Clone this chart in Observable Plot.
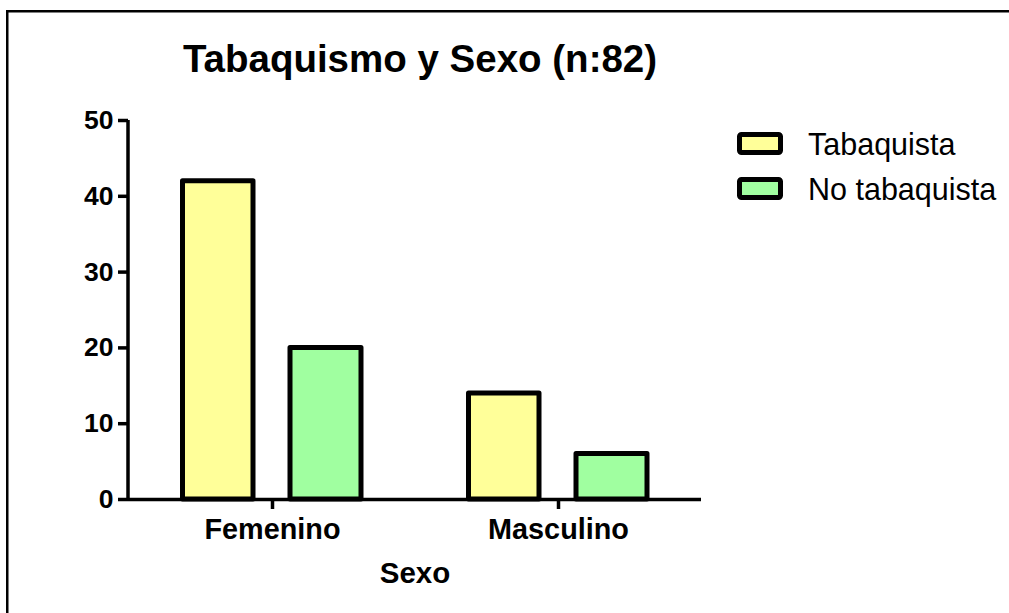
<!DOCTYPE html>
<html><head><meta charset="utf-8">
<script src="https://cdn.jsdelivr.net/npm/d3@7"></script>
<script src="https://cdn.jsdelivr.net/npm/@observablehq/plot@0.6"></script>
<style>
html,body{margin:0;padding:0;background:#fff;overflow:hidden;}
#wrap{position:relative;width:1009px;height:613px;overflow:hidden;font-family:"Liberation Sans",Arial,sans-serif;background:#fff;}
#chart{position:absolute;left:0;top:0;}
#overlay{position:absolute;left:0;top:0;}
</style></head><body>
<div id="wrap"><div id="chart"></div><svg id="overlay" width="1009" height="613"></svg></div>
<script>
const title = "Tabaquismo y Sexo (n:82)";
const xLabel = "Sexo";
const sexo = ["Femenino", "Masculino"];
const series = ["Tabaquista", "No tabaquista"];
const tabaquista = [42, 14];
const noTabaquista = [20, 6];
const colors = ["#ffff99", "#a0ffa0"];
const yTicks = [0, 10, 20, 30, 40, 50];

const dataTab = sexo.map((s, i) => ({sexo: s, value: tabaquista[i]}));
const dataNo = sexo.map((s, i) => ({sexo: s, value: noTabaquista[i]}));
const yDomain = [yTicks[0], yTicks[yTicks.length - 1]];

const plot = Plot.plot({
  width: 1009,
  height: 613,
  marginLeft: 128,
  marginRight: 308,
  marginTop: 120,
  marginBottom: 114,
  style: {fontFamily: "'Liberation Sans', Arial, sans-serif", fontSize: "26.5px", fontWeight: "bold", color: "#000", background: "transparent"},
  x: {domain: sexo, padding: 0, tickSize: 10, tickPadding: 9, label: null},
  y: {domain: yDomain, ticks: yTicks, tickSize: 10, tickPadding: 5, label: null},
  marks: [
    Plot.barY(dataTab, {x: "sexo", y: "value", fill: colors[0], stroke: "black", strokeWidth: 5, strokeLinejoin: "round", insetLeft: 53.5, insetRight: 162}),
    Plot.barY(dataNo, {x: "sexo", y: "value", fill: colors[1], stroke: "black", strokeWidth: 5, strokeLinejoin: "round", insetLeft: 161, insetRight: 54}),
    Plot.ruleY([0], {stroke: "black", strokeWidth: 3.5}),
    Plot.text([xLabel], {text: d => d, frameAnchor: "bottom", dy: 74, fontSize: 29.5, fontWeight: "bold", lineAnchor: "middle", fill: "black"})
  ]
});
document.getElementById("chart").appendChild(plot);

const svg = d3.select(plot);
svg.selectAll("g[aria-label*='axis'] line, g[aria-label*='axis'] path").attr("stroke-width", 3.5).attr("stroke", "black");
svg.selectAll("g[aria-label*='axis']").attr("stroke-width", 3.5);
svg.selectAll("text").each(function() {
  const t = d3.select(this).text();
  if (sexo.includes(t)) d3.select(this).attr("font-size", "28.8px").style("font-size", "28.8px");
});

const ov = d3.select("#overlay");
// outer frame: left and top edges
ov.append("line").attr("x1", 7.25).attr("y1", 11.25).attr("x2", 7.25).attr("y2", 613).attr("stroke", "black").attr("stroke-width", 2.5);
ov.append("line").attr("x1", 6).attr("y1", 11.25).attr("x2", 1009).attr("y2", 11.25).attr("stroke", "black").attr("stroke-width", 2.5);
// y-axis line, placed from Plot's own scales
const xs = plot.scale("x"), ys = plot.scale("y");
const axisX = Math.min(...xs.range);
ov.append("line").attr("x1", axisX).attr("x2", axisX)
  .attr("y1", ys.apply(yDomain[0])).attr("y2", ys.apply(yDomain[1]))
  .attr("stroke", "black").attr("stroke-width", 3.5);
ov.append("text").attr("x", 420).attr("y", 72).attr("text-anchor", "middle")
  .attr("font-size", 38.5).attr("font-weight", "bold").attr("font-family", "'Liberation Sans', Arial, sans-serif")
  .text(title);
series.forEach((s, i) => {
  const y0 = 134.5 + i * 45;
  ov.append("rect").attr("x", 739.5).attr("y", y0).attr("width", 41).attr("height", 18).attr("rx", 2)
    .attr("fill", colors[i]).attr("stroke", "black").attr("stroke-width", 5);
  ov.append("text").attr("x", 808).attr("y", 155 + i * 45)
    .attr("font-size", 30.5).attr("font-family", "'Liberation Sans', Arial, sans-serif").text(s);
});
</script>
</body></html>
